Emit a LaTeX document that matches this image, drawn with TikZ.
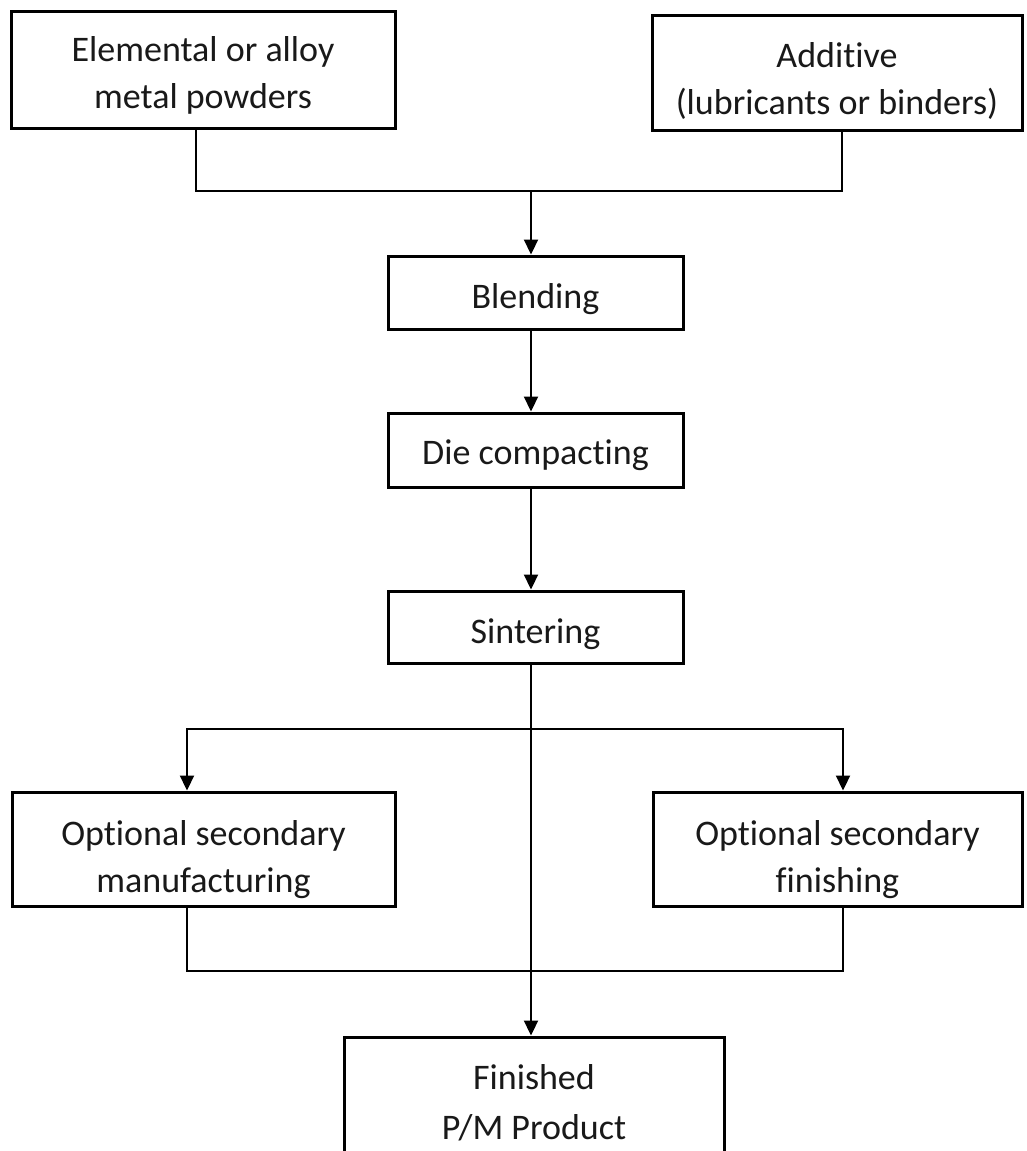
\documentclass[tikz,border=0pt]{standalone}
\usepackage{fontspec}
\setmainfont[RawFeature=-liga]{Carlito}
\usetikzlibrary{arrows.meta}
\begin{document}
\begin{tikzpicture}[x=1pt,y=-1pt,
  box/.style={draw=black, line width=3pt, inner sep=0pt},
  txt/.style={inner sep=0pt, align=center,
    font=\fontsize{36}{47}\selectfont, text=black!90},
  conn/.style={line width=2.2pt, line cap=rect},
  arr/.style={line width=2.2pt, -{Triangle[length=15pt,width=14pt]}}]
\fill[white] (0,0) rectangle (1027,1151);
\useasboundingbox (0,0) rectangle (1027,1151);
% boxes
\node[box, minimum width=384, minimum height=117] (elem) at (203,69.5) {};
\node[box, minimum width=370, minimum height=115] (add) at (837,72.5) {};
\node[box, minimum width=295, minimum height=73] (blend) at (535.5,292.5) {};
\node[box, minimum width=295, minimum height=74] (die) at (535.5,450) {};
\node[box, minimum width=295, minimum height=72] (sint) at (535.5,627) {};
\node[box, minimum width=383, minimum height=114] (manuf) at (203.5,849) {};
\node[box, minimum width=369, minimum height=114] (fin) at (837.5,849) {};
\node[box, minimum width=380, minimum height=126] (final) at (534,1100) {};
% texts
\node[txt, yshift=-6pt] (elemt) at (elem) {Elemental or alloy\\metal powders};
\node[txt, yshift=-8pt] (addt) at (add) {Additive\\(lubricants or binders)};
\node[txt, yshift=-7pt] (blendt) at (blend) {Blending};
\node[txt, yshift=-5pt] (diet) at (die) {Die compacting};
\node[txt, yshift=-7pt] (sintt) at (sint) {Sintering};
\node[txt, yshift=-11pt] (manuft) at (manuf) {Optional secondary\\manufacturing};
\node[txt, yshift=-11pt] (fint) at (fin) {Optional secondary\\finishing};
\node[txt, yshift=-3pt, font=\fontsize{36}{50}\selectfont] (finalt) at (final) {Finished\\P/M Product};
% junction points
\coordinate (a1) at (196,191);
\coordinate (a2) at (842,191);
\coordinate (a0) at (531,191);
\coordinate (b1) at (187,729);
\coordinate (b2) at (843,729);
\coordinate (c1) at (187,971);
\coordinate (c2) at (843,971);
% connectors
\draw[conn] (elem.south -| a1) -- (a1) -- (a2) -- (add.south -| a2);
\draw[arr] (a0) -- (blend.north -| a0);
\draw[arr] (blend.south -| a0) -- (die.north -| a0);
\draw[arr] (die.south -| a0) -- (sint.north -| a0);
\draw[conn] (b1) -- (b2);
\draw[arr] (b1) -- (manuf.north -| b1);
\draw[arr] (b2) -- (fin.north -| b2);
\draw[arr] (sint.south -| a0) -- (final.north -| a0);
\draw[conn] (manuf.south -| c1) -- (c1) -- (c2) -- (fin.south -| c2);
\end{tikzpicture}
\end{document}
